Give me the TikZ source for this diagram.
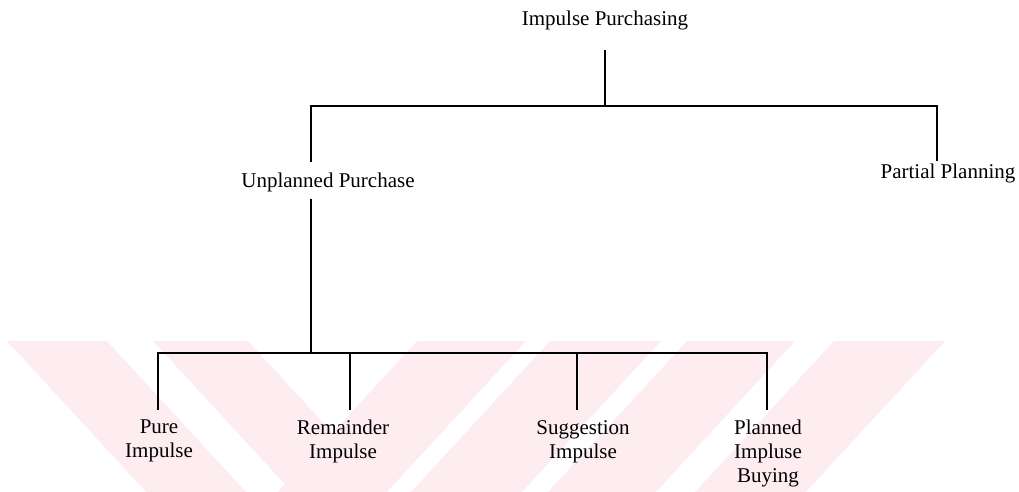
\documentclass[tikz,border=0pt]{standalone}
\usepackage{fontspec}
\setmainfont{Liberation Serif}
\definecolor{wm}{RGB}{253,237,240}
\begin{document}
\begin{tikzpicture}[x=1pt,y=-1pt,
  lbl/.style={inner sep=0pt, font=\fontsize{21}{24}\selectfont, align=center},
  conn/.style={line width=2.8pt, line join=miter}]
\useasboundingbox (0,0) rectangle (1019,492);
% watermark bands
\fill[wm] (7,341) -- (107,341) -- (246,492) -- (146,492) -- cycle;
\fill[wm] (153,341) -- (248,341) -- (387,492) -- (292,492) -- cycle;
\fill[wm] (417,341) -- (526,341) -- (387,492) -- (278,492) -- cycle;
\fill[wm] (550,341) -- (661,341) -- (522,492) -- (411,492) -- cycle;
\fill[wm] (687,341) -- (795,341) -- (656,492) -- (548,492) -- cycle;
\fill[wm] (834,341) -- (945,341) -- (806,492) -- (695,492) -- cycle;
% nodes
\node[lbl, anchor=base] (ip) at (605,26) {Impulse Purchasing};
\node[lbl, anchor=base] (up) at (328,187) {Unplanned Purchase};
\node[lbl, anchor=base] (pp) at (948,178) {Partial Planning};
\node[lbl, anchor=north] (pi) at (159,420) {Pure\\Impulse};
\node[lbl, anchor=north] (ri) at (343,420) {Remainder\\Impulse};
\node[lbl, anchor=north] (si) at (583,420) {Suggestion\\Impulse};
\node[lbl, anchor=north] (pb) at (768,420) {Planned\\Impluse\\Buying};
% junction coordinates
\coordinate (lt) at (311,106);
\coordinate (rt) at (937,106);
\coordinate (bj) at (311,353);
\coordinate (b1) at (158,353);
\coordinate (b2) at (350,353);
\coordinate (b3) at (577,353);
\coordinate (b4) at (767,353);
% connectors
\draw[conn] ([yshift=-19pt]ip.south) -- (ip.south |- lt);
\draw[conn] ([yshift=10pt]up.north -| lt) -- (lt) -- (rt) -- ([yshift=2pt]pp.north -| rt);
\draw[conn] ([yshift=-7pt]up.south -| lt) -- (bj);
\draw[conn] ([yshift=10pt]pi.north -| b1) -- (b1) -- (b4) -- ([yshift=10pt]pb.north -| b4);
\draw[conn] (b2) -- ([yshift=10pt]ri.north -| b2);
\draw[conn] (b3) -- ([yshift=10pt]si.north -| b3);
\end{tikzpicture}
\end{document}
